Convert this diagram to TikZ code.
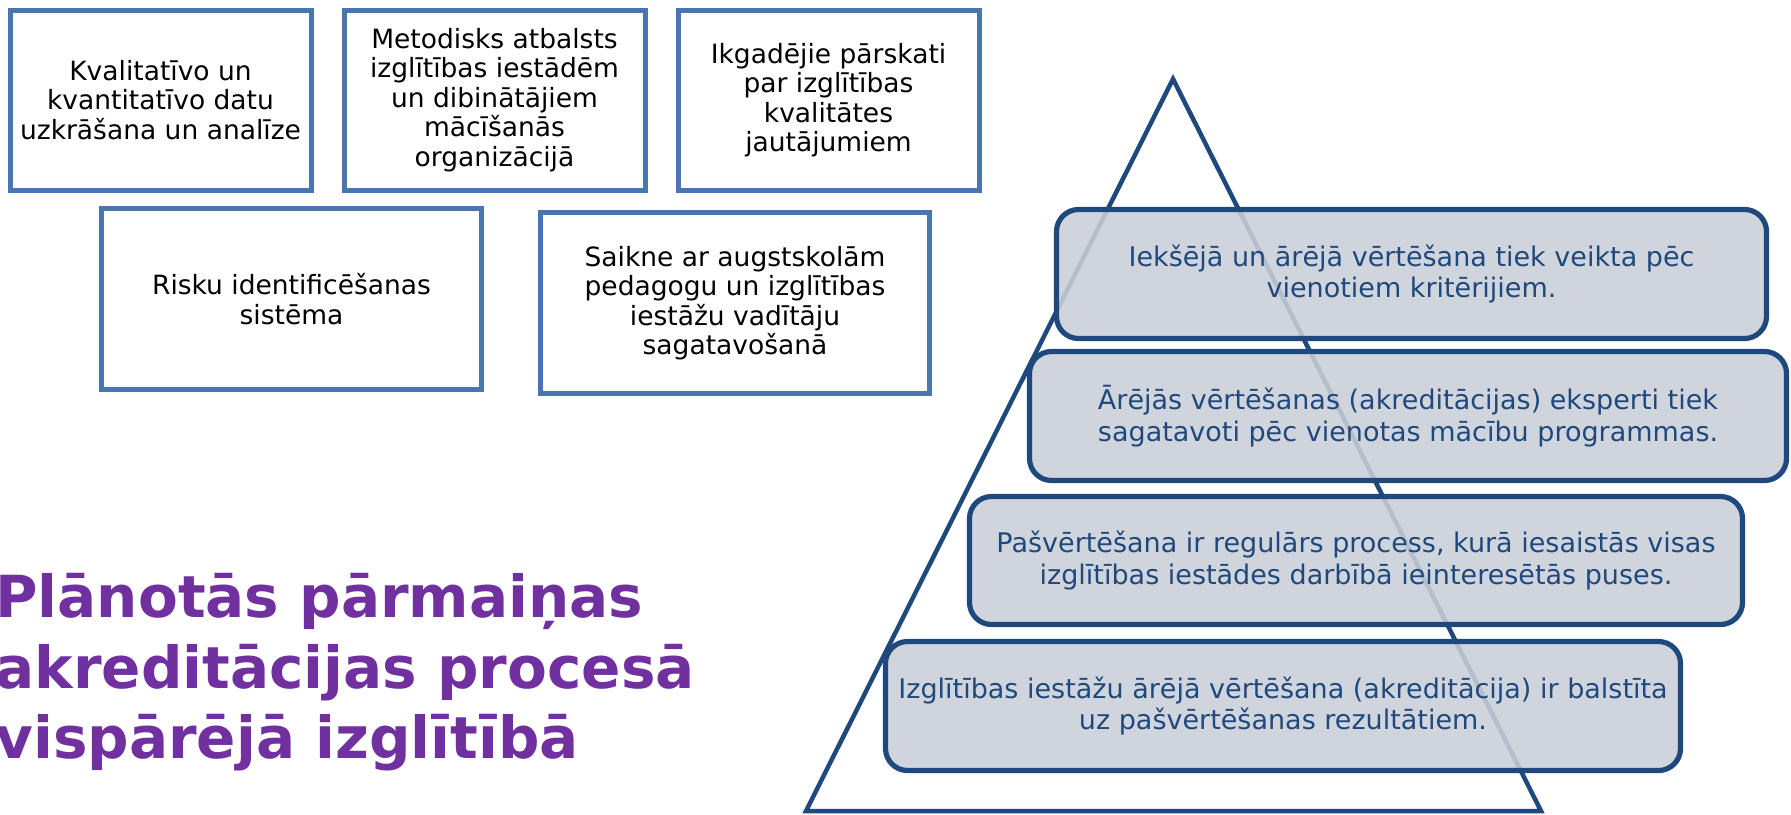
\documentclass[tikz,border=0pt]{standalone}
\usepackage{fontspec}
\setmainfont{DejaVu Sans}
\definecolor{topborder}{RGB}{74,118,176}
\definecolor{navy}{RGB}{31,73,125}
\definecolor{boxfill}{RGB}{202,207,216}
\definecolor{titlepurple}{RGB}{112,48,160}
\begin{document}
\begin{tikzpicture}[x=0.5pt,y=-0.5pt,
  topbox/.style={draw=topborder, line width=2.5pt, fill=white, inner sep=0pt, align=center,
    font=\fontsize{13.25pt}{14.75pt}\selectfont, text=black},
  levelbox/.style={draw=navy, line width=2.6pt, rounded corners=11pt, fill=boxfill,
    fill opacity=0.88, text opacity=1, inner sep=0pt, align=center, text=navy,
    font=\fontsize{13.5pt}{15.75pt}\selectfont},
  titleline/.style={anchor=base west, inner sep=0pt, text=titlepurple,
    font=\fontsize{29pt}{35pt}\selectfont\bfseries},
  pyramid/.style={draw=navy, line width=2.25pt, line join=miter}]
\useasboundingbox (0,0) rectangle (1791,814);
\clip (0,0) rectangle (1791,814);

% top boxes
\node[topbox, minimum width=150.5pt, minimum height=90pt] (b1) at (160.5,100)
  {Kvalitatīvo un\\kvantitatīvo datu\\uzkrāšana un analīze};
\node[topbox, minimum width=150.5pt, minimum height=90pt] (b2) at (494.5,100)
  {Metodisks atbalsts\\izglītības iestādēm\\un dibinātājiem\\mācīšanās\\organizācijā};
\node[topbox, minimum width=150.5pt, minimum height=90pt] (b3) at (828.5,100)
  {Ikgadējie pārskati\\par izglītības\\kvalitātes\\jautājumiem};
\node[topbox, minimum width=190pt, minimum height=90.5pt] (b4) at (291.5,299)
  {Risku identificēšanas\\sistēma};
\node[topbox, minimum width=194.5pt, minimum height=90.5pt] (b5) at (735,303)
  {Saikne ar augstskolām\\pedagogu un izglītības\\iestāžu vadītāju\\sagatavošanā};

% title
\node[titleline] (t1) at (-5,617) {Plānotās pārmaiņas};
\node[titleline] (t2) at (-5,688) {akreditācijas procesā};
\node[titleline] (t3) at (-5,758) {vispārējā izglītībā};

% pyramid
\coordinate (apex) at (1173,79);
\coordinate (bl) at (806,811);
\coordinate (br) at (1541,811);
\draw[pyramid] (apex) -- (bl) -- (br) -- cycle;

% level boxes
\node[levelbox, minimum width=355pt, minimum height=64.5pt] (lA) at (1411.5,274)
  {Iekšējā un ārējā vērtēšana tiek veikta pēc\\vienotiem kritērijiem.};
\node[levelbox, minimum width=378.5pt, minimum height=64.5pt] (lB) at (1408,416)
  {Ārējās vērtēšanas (akreditācijas) eksperti tiek\\sagatavoti pēc vienotas mācību programmas.};
\node[levelbox, minimum width=386.5pt, minimum height=64pt] (lC) at (1356,560.5)
  {Pašvērtēšana ir regulārs process, kurā iesaistās visas\\izglītības iestādes darbībā ieinteresētās puses.};
\node[levelbox, minimum width=397.5pt, minimum height=64.5pt] (lD) at (1283,706)
  {Izglītības iestāžu ārējā vērtēšana (akreditācija) ir balstīta\\uz pašvērtēšanas rezultātiem.};
\end{tikzpicture}
\end{document}
